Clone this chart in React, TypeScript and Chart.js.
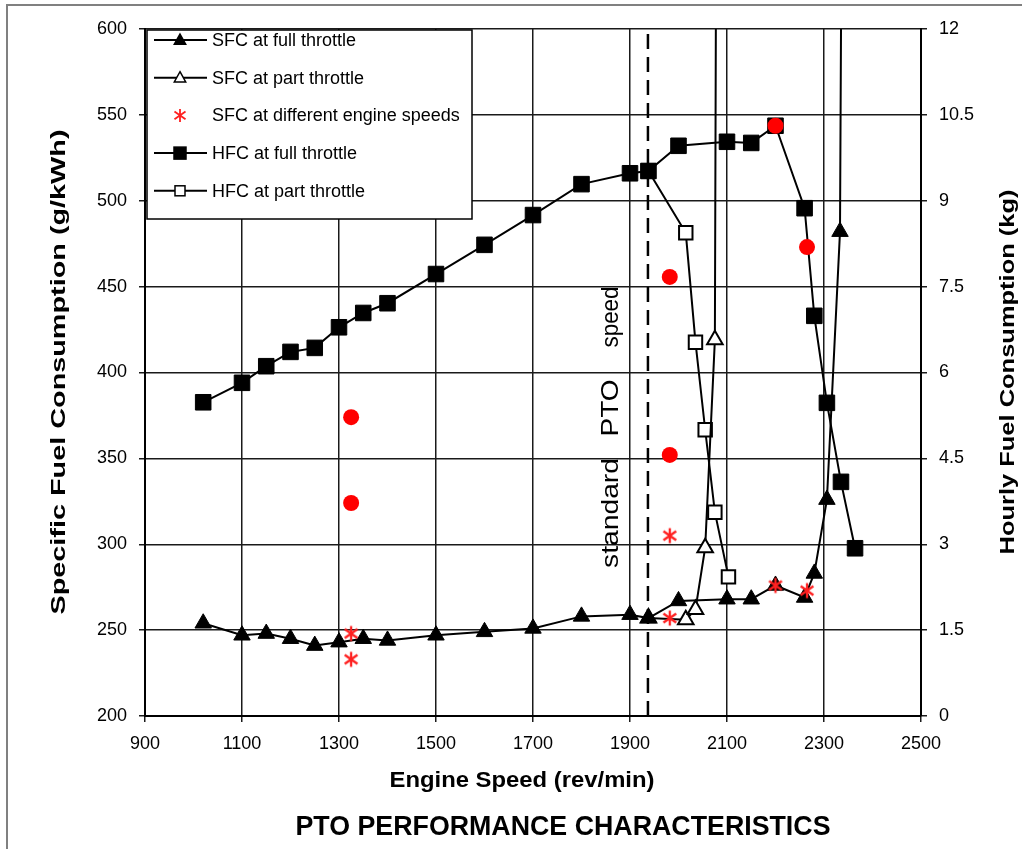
import React, { useEffect, useRef } from "react";
import { Chart, registerables } from "chart.js";

Chart.register(...registerables);

const FONT = "'Liberation Sans', Arial, Helvetica, sans-serif";

// Axis ticks
const speedTicks = [900, 1100, 1300, 1500, 1700, 1900, 2100, 2300, 2500];
const sfcTicks = [200, 250, 300, 350, 400, 450, 500, 550, 600];
const hfcTicks = [0, 1.5, 3, 4.5, 6, 7.5, 9, 10.5, 12];

// SFC at full throttle (g/kWh)
const sfcFullSpeed = [1020, 1100, 1150, 1200, 1250, 1300, 1350, 1400, 1500, 1600, 1700, 1800, 1900, 1938, 2000, 2100, 2150, 2200, 2260, 2280, 2306, 2333, 2364];
const sfcFullValue = [254, 247, 248, 245, 241, 243, 245, 244, 247, 249, 251, 258, 259, 257, 267, 268, 268, 276, 269, 283, 326, 482, 2250];

// SFC at part throttle (g/kWh)
const sfcPartSpeed = [1938, 2015, 2035, 2055, 2075, 2103];
const sfcPartValue = [257, 256, 262, 298, 419, 2950];

// SFC at different engine speeds (g/kWh)
const sfcOtherSpeed = [1325, 1325, 1982, 1982, 2200, 2265];
const sfcOtherValue = [248, 233, 305, 257, 276, 273];

// HFC at full throttle (kg)
const hfcFullSpeed = [1020, 1100, 1150, 1200, 1250, 1300, 1350, 1400, 1500, 1600, 1700, 1800, 1900, 1938, 2000, 2100, 2150, 2200, 2260, 2280, 2306, 2335, 2364];
const hfcFullValue = [5.48, 5.82, 6.11, 6.36, 6.43, 6.79, 7.04, 7.21, 7.72, 8.23, 8.75, 9.29, 9.48, 9.52, 9.96, 10.03, 10.01, 10.31, 8.87, 6.99, 5.47, 4.09, 2.93];

// HFC at part throttle (kg)
const hfcPartSpeed = [1938, 2015, 2035, 2055, 2075, 2103];
const hfcPartValue = [9.52, 8.44, 6.53, 5.0, 3.56, 2.43];

// HFC at different engine speeds (kg)
const hfcOtherSpeed = [1325, 1325, 1982, 1982, 2200, 2265];
const hfcOtherValue = [5.22, 3.72, 7.67, 4.56, 10.31, 8.19];

// Standard PTO speed marker
const ptoSpeed = 1937;
const ptoRange = [200, 600];

const legendLabels = [
  "SFC at full throttle",
  "SFC at part throttle",
  "SFC at different engine speeds",
  "HFC at full throttle",
  "HFC at part throttle",
];
const legendMarkers = ["triFill", "triOpen", "asterisk", "sqFill", "sqOpen"];

const zip = (xs: number[], ys: number[]) => xs.map((x, i) => ({ x, y: ys[i] }));

function drawAsterisk(g: CanvasRenderingContext2D, cx: number, cy: number, r: number, color: string, lw: number) {
  g.save();
  g.strokeStyle = color;
  g.lineWidth = lw;
  g.beginPath();
  g.moveTo(cx, cy - r);
  g.lineTo(cx, cy + r);
  const dx = r * 0.85;
  const dy = r * 0.6;
  g.moveTo(cx - dx, cy - dy);
  g.lineTo(cx + dx, cy + dy);
  g.moveTo(cx + dx, cy - dy);
  g.lineTo(cx - dx, cy + dy);
  g.stroke();
  g.restore();
}

function makeAsterisk(size: number, color: string, lw: number) {
  const c = document.createElement("canvas");
  c.width = size;
  c.height = size;
  const g = c.getContext("2d")!;
  drawAsterisk(g, size / 2, size / 2, size / 2 - 1.5, color, lw);
  return c;
}

function drawMarker(ctx: CanvasRenderingContext2D, kind: string, x: number, y: number) {
  ctx.save();
  ctx.strokeStyle = "#000";
  ctx.lineWidth = 1.5;
  if (kind === "triFill" || kind === "triOpen") {
    const s = 6;
    ctx.beginPath();
    ctx.moveTo(x, y - s);
    ctx.lineTo(x + s * 0.95, y + s * 0.7);
    ctx.lineTo(x - s * 0.95, y + s * 0.7);
    ctx.closePath();
    ctx.fillStyle = kind === "triFill" ? "#000" : "#fff";
    ctx.fill();
    ctx.stroke();
  } else if (kind === "sqFill" || kind === "sqOpen") {
    const s = kind === "sqFill" ? 6 : 5;
    ctx.fillStyle = kind === "sqFill" ? "#000" : "#fff";
    ctx.fillRect(x - s, y - s, 2 * s, 2 * s);
    ctx.strokeRect(x - s, y - s, 2 * s, 2 * s);
  } else if (kind === "asterisk") {
    drawAsterisk(ctx, x, y, 6.5, "#ff2020", 1.8);
  }
  ctx.restore();
}

function drawStretched(
  ctx: CanvasRenderingContext2D,
  text: string,
  cx: number,
  base: number,
  font: string,
  targetLen: number,
  rotated: boolean
) {
  ctx.save();
  ctx.font = font;
  ctx.fillStyle = "#000";
  const w = ctx.measureText(text).width;
  if (rotated) {
    ctx.translate(base, cx);
    ctx.rotate(-Math.PI / 2);
  } else {
    ctx.translate(cx, base);
  }
  ctx.scale(targetLen / w, 1);
  ctx.textAlign = "center";
  ctx.textBaseline = "alphabetic";
  ctx.fillText(text, 0, 0);
  ctx.restore();
}

const decorPlugin = {
  id: "decor",
  beforeDraw(chart: any) {
    const ctx = chart.ctx as CanvasRenderingContext2D;
    ctx.save();
    ctx.fillStyle = "#fff";
    ctx.fillRect(0, 0, chart.width, chart.height);
    ctx.strokeStyle = "#808080";
    ctx.lineWidth = 2;
    ctx.beginPath();
    ctx.moveTo(7, chart.height);
    ctx.lineTo(7, 5);
    ctx.lineTo(chart.width, 5);
    ctx.stroke();
    ctx.restore();
  },
  afterDatasetsDraw(chart: any) {
    const ctx = chart.ctx as CanvasRenderingContext2D;
    // legend box
    ctx.save();
    ctx.fillStyle = "#fff";
    ctx.fillRect(147, 30, 325, 189);
    ctx.strokeStyle = "#000";
    ctx.lineWidth = 1.5;
    ctx.strokeRect(147, 30, 325, 189);
    legendLabels.forEach((label, i) => {
      const y = 40 + i * 37.7;
      const kind = legendMarkers[i];
      if (kind !== "asterisk") {
        ctx.strokeStyle = "#000";
        ctx.lineWidth = 2;
        ctx.beginPath();
        ctx.moveTo(154, y);
        ctx.lineTo(207, y);
        ctx.stroke();
      }
      drawMarker(ctx, kind, 180, y);
      ctx.fillStyle = "#000";
      ctx.font = `18px ${FONT}`;
      ctx.textAlign = "left";
      ctx.textBaseline = "middle";
      ctx.fillText(label, 212, y + 1);
    });
    ctx.restore();

    // standard PTO speed annotation
    const f = `24px ${FONT}`;
    drawStretched(ctx, "standard", 513, 618, f, 110, true);
    drawStretched(ctx, "PTO", 408, 618, f, 57, true);
    drawStretched(ctx, "speed", 317, 618, f, 61, true);
  },
  afterDraw(chart: any) {
    const ctx = chart.ctx as CanvasRenderingContext2D;
    drawStretched(ctx, "Engine Speed (rev/min)", 522, 787, `bold 22px ${FONT}`, 265, false);
    drawStretched(ctx, "PTO PERFORMANCE CHARACTERISTICS", 563, 835, `bold 27px ${FONT}`, 535, false);
    drawStretched(ctx, "Specific Fuel Consumption (g/kWh)", 372, 65, `bold 20px ${FONT}`, 485, true);
    drawStretched(ctx, "Hourly Fuel Consumption (kg)", 372, 1014, `bold 20px ${FONT}`, 365, true);
  },
};

export default function App() {
  const ref = useRef<HTMLCanvasElement | null>(null);

  useEffect(() => {
    if (!ref.current) return;
    const asterisk = makeAsterisk(18, "#ff2020", 2.3);
    const tickFont = { family: FONT, size: 18 };
    const gridColor = "#1a1a1a";
    const plain = (v: any) => String(v);

    const chart = new Chart(ref.current, {
      type: "line",
      data: {
        datasets: [
          {
            label: "HFC at different engine speeds",
            data: zip(hfcOtherSpeed, hfcOtherValue),
            yAxisID: "y1",
            showLine: false,
            pointStyle: "circle",
            pointRadius: 8,
            pointBackgroundColor: "#ff0000",
            pointBorderColor: "#ff0000",
            pointBorderWidth: 0,
            order: 0,
          },
          {
            label: legendLabels[2],
            data: zip(sfcOtherSpeed, sfcOtherValue),
            yAxisID: "y",
            showLine: false,
            pointStyle: asterisk,
            pointRadius: 9,
            order: 1,
          },
          {
            label: legendLabels[0],
            data: zip(sfcFullSpeed, sfcFullValue),
            yAxisID: "y",
            borderColor: "#000",
            borderWidth: 2,
            pointStyle: "triangle",
            pointRadius: 9.5,
            pointBackgroundColor: "#000",
            pointBorderColor: "#000",
            pointBorderWidth: 1,
            order: 2,
          },
          {
            label: legendLabels[3],
            data: zip(hfcFullSpeed, hfcFullValue),
            yAxisID: "y1",
            borderColor: "#000",
            borderWidth: 2,
            pointStyle: "rect",
            pointRadius: 11,
            pointBackgroundColor: "#000",
            pointBorderColor: "#000",
            pointBorderWidth: 1,
            order: 3,
          },
          {
            label: legendLabels[1],
            data: zip(sfcPartSpeed, sfcPartValue),
            yAxisID: "y",
            borderColor: "#000",
            borderWidth: 2,
            pointStyle: "triangle",
            pointRadius: 9,
            pointBackgroundColor: "#fff",
            pointBorderColor: "#000",
            pointBorderWidth: 2,
            order: 4,
          },
          {
            label: legendLabels[4],
            data: zip(hfcPartSpeed, hfcPartValue),
            yAxisID: "y1",
            borderColor: "#000",
            borderWidth: 2,
            pointStyle: "rect",
            pointRadius: 9.5,
            pointBackgroundColor: "#fff",
            pointBorderColor: "#000",
            pointBorderWidth: 2,
            order: 5,
          },
          {
            label: "standard PTO speed",
            data: ptoRange.map((y) => ({ x: ptoSpeed, y })),
            yAxisID: "y",
            borderColor: "#000",
            borderWidth: 2.5,
            borderDash: [15, 8],
            pointRadius: 0,
            order: 6,
          },
        ],
      },
      options: {
        animation: false,
        responsive: false,
        maintainAspectRatio: false,
        devicePixelRatio: 1,
        layout: { padding: { top: 29, left: 0, right: 0, bottom: 0 } },
        plugins: {
          legend: { display: false },
          tooltip: { enabled: false },
          title: { display: false },
        },
        scales: {
          x: {
            type: "linear",
            min: 900,
            max: 2500,
            afterBuildTicks: (s: any) => {
              s.ticks = speedTicks.map((v) => ({ value: v }));
            },
            afterFit: (s: any) => {
              s.height = 133;
            },
            grid: { color: gridColor, lineWidth: 1.5, tickLength: 6 },
            border: { color: "#000", width: 2 },
            ticks: { font: tickFont, color: "#000", padding: 11, maxRotation: 0, autoSkip: false, callback: plain },
          },
          y: {
            type: "linear",
            position: "left",
            min: 200,
            max: 600,
            afterBuildTicks: (s: any) => {
              s.ticks = sfcTicks.map((v) => ({ value: v }));
            },
            afterFit: (s: any) => {
              s.width = 145;
            },
            grid: { color: gridColor, lineWidth: 1.5, tickLength: 6 },
            border: { color: "#000", width: 2 },
            ticks: { font: tickFont, color: "#000", padding: 12, autoSkip: false, callback: plain },
          },
          y1: {
            type: "linear",
            position: "right",
            min: 0,
            max: 12,
            afterBuildTicks: (s: any) => {
              s.ticks = hfcTicks.map((v) => ({ value: v }));
            },
            afterFit: (s: any) => {
              s.width = 101;
            },
            grid: { drawOnChartArea: false, color: gridColor, lineWidth: 1.5, tickLength: 6 },
            border: { color: "#000", width: 2 },
            ticks: { font: tickFont, color: "#000", padding: 12, autoSkip: false, callback: plain },
          },
        },
      },
      plugins: [decorPlugin],
    } as any);

    return () => chart.destroy();
  }, []);

  return (
    <div style={{ position: "absolute", left: 0, top: 0, width: 1022, height: 849 }}>
      <canvas ref={ref} width={1022} height={849} style={{ width: 1022, height: 849, display: "block" }} />
    </div>
  );
}
